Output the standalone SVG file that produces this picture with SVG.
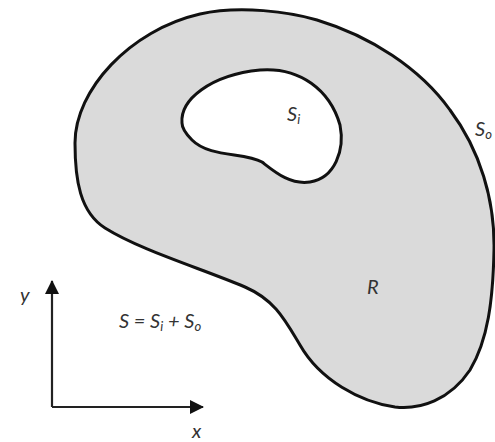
<svg xmlns="http://www.w3.org/2000/svg" width="495" height="442" viewBox="0 0 495 442">
<style>
.lbl{font-family:Lato,"Open Sans","Liberation Sans",sans-serif;font-style:italic;fill:#333;font-size:20px}
.sub{font-size:13px}
.axis{stroke:#222;stroke-width:2.2;fill:none}
</style>
<defs>
<marker id="arr" markerWidth="14" markerHeight="14" refX="13" refY="7" orient="auto" markerUnits="userSpaceOnUse" viewBox="0 0 14 14">
<path d="M0,0 L14,7 L0,14 Z" fill="#111"/>
</marker>
</defs>
<rect width="495" height="442" fill="#fff"/>
<g id="region">
<path d="M75,143 C75,90 130,30 200,14 C240,5 290,12 317,20 C370,36 420,68 450,110 C480,150 495,200 494,250 C493,300 488,340 470,370 C450,400 420,410 395,407 C360,402 320,380 300,345 C285,320 275,300 245,287 C200,268 140,250 105,228 C80,212 75,180 75,143 Z" fill="#dadada" stroke="#111" stroke-width="3"/>
</g>
<g id="hole">
<path d="M182,123 C180,100 210,75 260,70 C300,67 330,90 340,125 C345,150 335,178 310,182 C290,185 275,172 262,162 C245,152 210,158 192,140 C185,133 182,128 182,123 Z" fill="#fff" stroke="#111" stroke-width="3"/>
</g>
<g id="axes">
<path class="axis" d="M52,407 L52,281" marker-end="url(#arr)"/>
<path class="axis" d="M52,407 L203,407" marker-end="url(#arr)"/>
</g>
<g id="labels">
<text class="lbl" x="287" y="121">S<tspan class="sub" dy="3">i</tspan></text>
<text class="lbl" x="475" y="136">S<tspan class="sub" dy="3">o</tspan></text>
<text class="lbl" x="367" y="294">R</text>
<text class="lbl" x="119" y="328">S = S<tspan class="sub" dy="3">i</tspan><tspan dy="-3"> + S</tspan><tspan class="sub" dy="3">o</tspan></text>
<text class="lbl" x="20" y="302">y</text>
<text class="lbl" x="192" y="438">x</text>
</g>
</svg>
